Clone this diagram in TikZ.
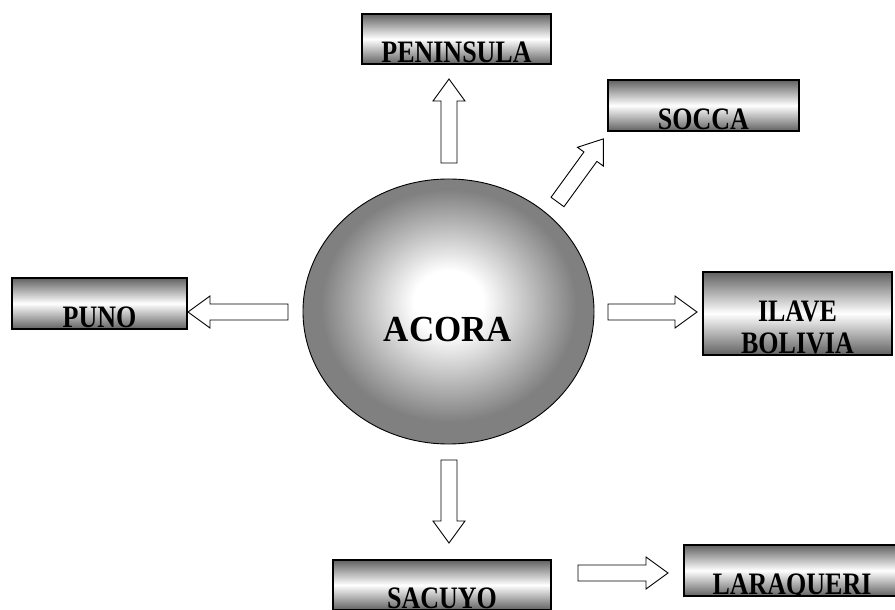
\documentclass[tikz,border=0pt]{standalone}
\usepackage{fontspec}
\setmainfont{Liberation Serif}
\usetikzlibrary{shapes.geometric}
\pgfdeclareradialshading{acorash}{\pgfpoint{0bp}{2bp}}{color(0bp)=(white); color(6bp)=(white); color(22bp)=(black!50); color(50bp)=(black!50)}
\newcommand{\talltext}[1]{\scalebox{1}[1.2]{#1}}
\tikzset{
  boxtext/.style={font=\bfseries\fontsize{26}{30}\selectfont, inner sep=0pt},
  box/.style={rectangle, draw=black, line width=1.3pt, inner sep=0pt,
    top color=black!62, bottom color=black!62, middle color=white},
  boxlabel/.style={path picture={\node[boxtext, anchor=base] at ([yshift=1.5pt]path picture bounding box.south) {\talltext{#1}};}},
  arrowline/.style={draw=black, line width=0.9pt, fill=white, line join=miter},
  pics/blockarrow/.style={code={
    \draw[arrowline] (0,-8) -- (#1-22,-8) -- (#1-22,-16) -- (#1,0) -- (#1-22,16) -- (#1-22,8) -- (0,8) -- cycle;
  }}
}
\begin{document}
\begin{tikzpicture}[x=1pt,y=1pt]
\useasboundingbox (0,0) rectangle (895,610);

% central ellipse
\node[ellipse, draw=black, line width=0.9pt, minimum width=291, minimum height=265,
      shading=acorash] (acora) at (448.5,298.5) {};
\node[font=\bfseries\fontsize{35}{40}\selectfont, anchor=base, inner sep=0pt] (acoralbl) at (448,268) {\scalebox{1}[1.05]{ACORA}};

% boxes
\node[box, boxlabel=PENINSULA, minimum width=189, minimum height=50] (pen) at (456.5,571) {};
\node[box, boxlabel=SOCCA, minimum width=191, minimum height=51] (soc) at (703.5,504.5) {};
\node[box, boxlabel=PUNO, minimum width=175, minimum height=51] (pun) at (99.5,306.5) {};
\node[box, minimum width=189, minimum height=83,
  path picture={
    \node[boxtext, anchor=base] at ([yshift=33pt]path picture bounding box.south) {\talltext{ILAVE}};
    \node[boxtext, anchor=base] at ([yshift=1.5pt]path picture bounding box.south) {\talltext{BOLIVIA}};
  }] (ila) at (797.5,296.5) {};
\node[box, boxlabel=SACUYO, minimum width=218, minimum height=50] (sac) at (442,25) {};
\node[box, boxlabel=LARAQUERI, minimum width=216, minimum height=51] (lar) at (792,39.5) {};

% block arrows
\pic[rotate=90] (apen) at (449,447) {blockarrow=84};
\pic[rotate=54] (asoc) at (557.5,408) {blockarrow=78};
\pic[rotate=180] (apun) at (288,298) {blockarrow=100};
\pic (aila) at (608,298) {blockarrow=89};
\pic[rotate=-90] (asac) at (449,150) {blockarrow=83};
\pic (alar) at (578,37) {blockarrow=90};
\end{tikzpicture}
\end{document}
